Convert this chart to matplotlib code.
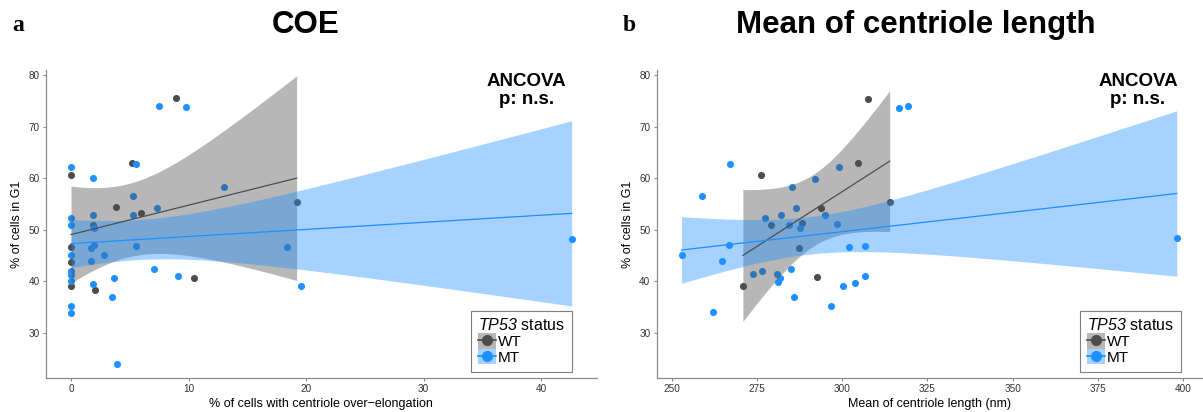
import math
import numpy as np
import matplotlib
matplotlib.use("Agg")
import matplotlib.pyplot as plt
from matplotlib.patches import Patch
from matplotlib.lines import Line2D


# Panel a: % of cells with centriole over-elongation vs % of cells in G1
coe_wt_x = [0, 0, 0, 0, 1.84, 2.03, 3.8, 5.2, 5.93, 8.9, 10.5, 19.2]
coe_wt_y = [60.6, 46.6, 43.8, 39.0, 51.0, 38.3, 54.4, 62.9, 53.25, 75.5, 40.65, 55.3]
coe_mt_x = [0, 0, 0, 0, 0, 0, 0, 0, 0,
            1.84, 1.84, 1.92, 1.92, 1.72, 1.72, 1.84,
            2.82, 3.62, 3.53, 3.93,
            5.31, 5.31, 5.5, 5.5,
            7.29, 7.09, 7.5, 9.1, 9.8,
            13.0, 18.4, 19.6, 42.6]
coe_mt_y = [62.1, 52.2, 51.0, 45.1, 42.0, 41.2, 40.0, 35.1, 33.8,
            60.0, 52.9, 50.3, 47.1, 46.4, 44.0, 39.4,
            45.0, 40.6, 36.95, 23.9,
            56.6, 52.9, 62.8, 46.9,
            54.3, 42.3, 74.1, 41.0, 73.8,
            58.25, 46.6, 39.0, 48.2]

# Panel b: mean centriole length (nm) vs % of cells in G1
len_wt_x = [276.0, 270.8, 293.7, 292.6, 287.4, 279.1, 288.1, 304.6, 307.4, 313.9]
len_wt_y = [60.6, 39.1, 54.3, 40.75, 46.5, 51.0, 51.3, 63.0, 75.4, 55.35]
len_mt_x = [252.8, 258.9, 262.1, 264.6, 266.7, 267.0, 273.8, 276.4, 277.4, 282.0,
            280.7, 281.6, 281.2, 284.3, 285.2, 285.0, 285.8, 286.5, 287.7, 292.0,
            294.9, 296.7, 298.5, 299.0, 300.1, 301.9, 303.7, 306.7, 306.7, 316.6,
            319.2, 398.2]
len_mt_y = [45.0, 56.6, 34.0, 44.0, 47.1, 62.8, 41.3, 41.9, 52.3, 52.8,
            41.3, 40.6, 39.9, 50.9, 58.2, 42.3, 37.0, 54.3, 50.4, 59.9,
            52.8, 35.2, 51.1, 62.1, 39.1, 46.7, 39.6, 46.9, 41.1, 73.7,
            74.0, 48.3]

WT_COLOR = "#4D4D4D"
MT_COLOR = "#1E90FF"

plt.rcParams["font.family"] = ["Liberation Sans", "DejaVu Sans"]
plt.rcParams["mathtext.fontset"] = "custom"
plt.rcParams["mathtext.rm"] = "Liberation Sans"
# sf slot used for the italic gene name (it slot would set digits upright)
plt.rcParams["mathtext.sf"] = "Liberation Sans:italic"


def t_crit(df, p=0.975):
    # quantile of Student's t by integrating the density
    xs = np.linspace(0, 12, 40001)
    c = math.gamma((df + 1) / 2) / (math.sqrt(df * math.pi) * math.gamma(df / 2))
    pdf = c * (1 + xs ** 2 / df) ** (-(df + 1) / 2)
    cdf = 0.5 + np.concatenate([[0], np.cumsum((pdf[1:] + pdf[:-1]) / 2 * np.diff(xs))])
    return np.interp(p, cdf, xs)


def lm_fit(x, y):
    # linear fit with 95% confidence band, like geom_smooth(method="lm")
    x = np.asarray(x, float)
    y = np.asarray(y, float)
    n = len(x)
    b, a = np.polyfit(x, y, 1)
    resid = y - (a + b * x)
    s = np.sqrt(np.sum(resid ** 2) / (n - 2))
    xg = np.linspace(x.min(), x.max(), 80)
    se = s * np.sqrt(1 / n + (xg - x.mean()) ** 2 / np.sum((x - x.mean()) ** 2))
    yg = a + b * xg
    t = t_crit(n - 2)
    return xg, yg, yg - t * se, yg + t * se


def draw_panel(ax, wt_x, wt_y, mt_x, mt_y):
    ax.scatter(wt_x, wt_y, s=26, color=WT_COLOR, zorder=2, linewidths=0)
    ax.scatter(mt_x, mt_y, s=26, color=MT_COLOR, zorder=2, linewidths=0)
    for xs, ys, col in [(wt_x, wt_y, WT_COLOR), (mt_x, mt_y, MT_COLOR)]:
        xg, yg, lo, hi = lm_fit(xs, ys)
        ax.fill_between(xg, lo, hi, color=col, alpha=0.4, linewidth=0, zorder=3)
        ax.plot(xg, yg, color=col, lw=0.9, zorder=4)

    for side in ["top", "right"]:
        ax.spines[side].set_visible(False)
    for side in ["left", "bottom"]:
        ax.spines[side].set_color("#8C8C8C")
        ax.spines[side].set_linewidth(0.9)
    ax.tick_params(colors="#8C8C8C", labelcolor="#333333", labelsize=7.2,
                   length=2.5, width=0.8, pad=2)
    ax.set_ylim(21.2, 81.0)
    ax.set_yticks([30, 40, 50, 60, 70, 80])
    ax.set_ylabel("% of cells in G1", fontsize=9, labelpad=4)

    handles = [
        (Patch(facecolor=WT_COLOR, alpha=0.4, edgecolor="none"),
         Line2D([], [], color=WT_COLOR, marker="o", markersize=7, lw=1.2)),
        (Patch(facecolor=MT_COLOR, alpha=0.4, edgecolor="none"),
         Line2D([], [], color=MT_COLOR, marker="o", markersize=7, lw=1.2)),
    ]
    return handles


fig = plt.figure(figsize=(12.03, 4.12), dpi=100)
ax1 = fig.add_axes([0.0382, 0.0825, 0.4578, 0.7476])
ax2 = fig.add_axes([0.5459, 0.0825, 0.4530, 0.7476])

h1 = draw_panel(ax1, coe_wt_x, coe_wt_y, coe_mt_x, coe_mt_y)
ax1.set_xlim(-2.13, 44.73)
ax1.set_xticks([0, 10, 20, 30, 40])
ax1.set_xlabel("% of cells with centriole over\u2212elongation", fontsize=9,
               labelpad=3)

h2 = draw_panel(ax2, len_wt_x, len_wt_y, len_mt_x, len_mt_y)
ax2.set_xlim(245.5, 405.5)
ax2.set_xticks([250, 275, 300, 325, 350, 375, 400])
ax2.set_xlabel("Mean of centriole length (nm)", fontsize=9, labelpad=3)

for ax, handles, lx, tx in [(ax1, h1, 0.955, 0.873), (ax2, h2, 0.962, 0.883)]:
    leg = ax.legend(handles, ["WT", "MT"], title=r"$\mathsf{TP53}$ status",
                    loc="lower right", bbox_to_anchor=(lx, 0.02),
                    borderaxespad=0, fontsize=11, title_fontsize=11.5,
                    handlelength=1.15, handleheight=1.15, handletextpad=0.12,
                    labelspacing=0.0, borderpad=0.45, fancybox=False,
                    framealpha=1, edgecolor="#7F7F7F")
    leg.get_frame().set_linewidth(0.8)
    leg._legend_box.align = "left"
    ax.text(tx, 0.99, "ANCOVA\np: n.s.", transform=ax.transAxes, ha="center",
            va="top", fontsize=13.5, fontweight="bold", linespacing=1.05)

fig.text(306 / 1203, 1 - 33 / 412, "COE", ha="center", va="baseline",
         fontsize=22.5, fontweight="bold")
fig.text(916 / 1203, 1 - 33 / 412, "Mean of centriole length", ha="center",
         va="baseline", fontsize=22.5, fontweight="bold")
fig.text(12 / 1203, 1 - 31 / 412, "a", ha="left", va="baseline", fontsize=17,
         fontweight="bold", family="Liberation Serif")
fig.text(623 / 1203, 1 - 31 / 412, "b", ha="left", va="baseline", fontsize=17,
         fontweight="bold", family="Liberation Serif")

fig.savefig("out.png", dpi=100)
